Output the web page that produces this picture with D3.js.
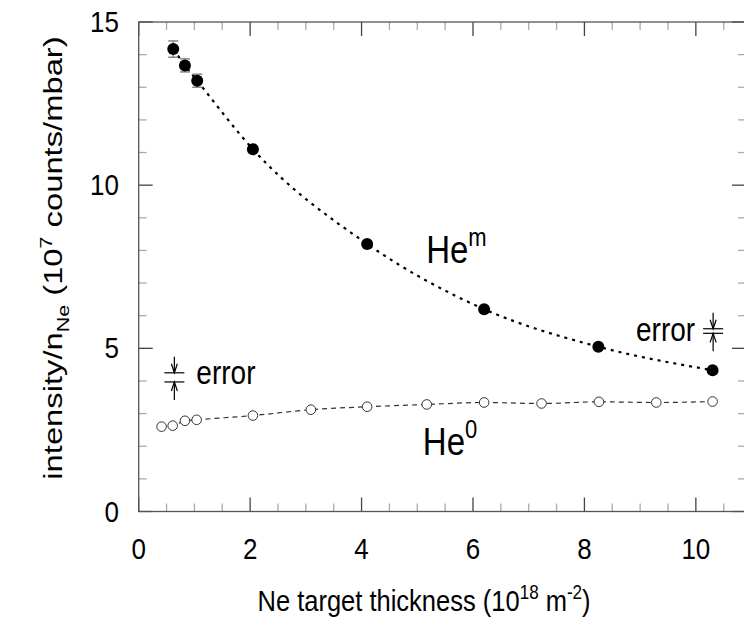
<!DOCTYPE html>
<html>
<head>
<meta charset="utf-8">
<script src="https://cdn.jsdelivr.net/npm/d3@7"></script>
<style>
  body { margin: 0; background: #fff; }
  text { font-family: "Liberation Sans", Arial, Helvetica, sans-serif; fill: #000; }
</style>
</head>
<body>
<script>
// metastable (filled) points
var heMx   = [0.62, 0.83, 1.05, 2.05, 4.1, 6.2, 8.25, 10.3];
var heMy   = [14.17, 13.67, 13.2, 11.1, 8.2, 6.2, 5.05, 4.33];
var heMerr = [0.25, 0.2, 0.2, 0, 0, 0, 0, 0];
// ground state (open) points
var he0x = [0.41, 0.61, 0.83, 1.04, 2.05, 3.09, 4.1, 5.17, 6.2, 7.23, 8.26, 9.29, 10.3];
var he0y = [2.6, 2.63, 2.78, 2.81, 2.94, 3.12, 3.21, 3.28, 3.34, 3.31, 3.36, 3.34, 3.37];
// error indicators: x, centre y, half gap
var errX = [0.64, 10.31];
var errY = [4.11, 5.53];
var errGap = [0.14, 0.07];

var xTicks = [0, 2, 4, 6, 8, 10];
var yTicks = [0, 5, 10, 15];

var width = 744, height = 624;
var margin = {left: 138.7, right: -2, top: 22, bottom: 112.5};
var stretch = 1.17; // the original figure text looks vertically stretched

var x = d3.scaleLinear().domain([0, 10.9]).range([margin.left, width - margin.right]);
var y = d3.scaleLinear().domain([0, 15]).range([height - margin.bottom, margin.top]);

var svg = d3.select("body").append("svg")
    .attr("width", width).attr("height", height);

// horizontal text, stretched a bit vertically
function label(px, py, size, anchor){
  return svg.append("g")
      .attr("transform", "translate(" + px + "," + py + ") scale(1," + stretch + ")")
    .append("text").attr("font-size", size).attr("text-anchor", anchor || "start");
}

// ticks on all four sides (minor light, major dark)
var xMinor = d3.range(0, 10.91, 0.5);
var yMinor = d3.range(0, 15.01, 1);
var tk = svg.append("g");
xMinor.forEach(function(v){
  var major = Math.abs(v % 2) < 1e-6;
  var len = major ? 14 : 8;
  var col = major ? "#444" : "#aaa";
  tk.append("line").attr("x1", x(v)).attr("x2", x(v)).attr("y1", y(0)).attr("y2", y(0) - len)
    .attr("stroke", col).attr("stroke-width", 1.3);
  tk.append("line").attr("x1", x(v)).attr("x2", x(v)).attr("y1", y(15)).attr("y2", y(15) + len)
    .attr("stroke", col).attr("stroke-width", 1.3);
});
yMinor.forEach(function(v){
  var major = v % 5 === 0;
  var len = major ? 14 : 8;
  var col = major ? "#444" : "#aaa";
  tk.append("line").attr("x1", x(0)).attr("x2", x(0) + len).attr("y1", y(v)).attr("y2", y(v))
    .attr("stroke", col).attr("stroke-width", 1.3);
  tk.append("line").attr("x1", x(10.9)).attr("x2", x(10.9) - len).attr("y1", y(v)).attr("y2", y(v))
    .attr("stroke", col).attr("stroke-width", 1.3);
});

// frame
svg.append("rect")
    .attr("x", x(0)).attr("y", y(15))
    .attr("width", x(10.9) - x(0)).attr("height", y(0) - y(15))
    .attr("fill", "none").attr("stroke", "#555").attr("stroke-width", 1.3);

// tick labels
xTicks.forEach(function(d){
  label(x(d), y(0) + 47, 26, "middle").text(d);
});
yTicks.forEach(function(d){
  label(119, y(d) + 10, 26, "end").text(d);
});

// axis titles
var xt = label(424, 611, 25.5, "middle");
xt.append("tspan").text("Ne target thickness (10");
xt.append("tspan").attr("dy", -10).attr("font-size", 17).text("18");
xt.append("tspan").attr("dy", 10).text(" m");
xt.append("tspan").attr("dy", -10).attr("font-size", 17).text("-2");
xt.append("tspan").attr("dy", 10).text(")");

var yt = svg.append("g")
    .attr("transform", "translate(62,258) rotate(-90) scale(1.26,1)")
  .append("text").attr("text-anchor", "middle").attr("font-size", 26);
yt.append("tspan").text("intensity/n");
yt.append("tspan").attr("dy", 7).attr("font-size", 17).text("Ne");
yt.append("tspan").attr("dy", -7).text(" (10");
yt.append("tspan").attr("dy", -10).attr("font-size", 17).text("7");
yt.append("tspan").attr("dy", 10).text(" counts/mbar)");

// fit lines
var heM = heMx.map(function(d, i){ return {x: d, y: heMy[i], e: heMerr[i]}; });
var he0 = he0x.map(function(d, i){ return {x: d, y: he0y[i]}; });
var line = d3.line().x(function(d){ return x(d.x); }).y(function(d){ return y(d.y); })
    .curve(d3.curveMonotoneX);

svg.append("path").attr("d", line(he0)).attr("fill", "none")
    .attr("stroke", "#333").attr("stroke-width", 1.2).attr("stroke-dasharray", "5,4");
svg.append("path").attr("d", line(heM)).attr("fill", "none")
    .attr("stroke", "#000").attr("stroke-width", 2.2).attr("stroke-dasharray", "3,5");

// error bars
var eb = svg.append("g").attr("stroke", "#888").attr("stroke-width", 1.5);
heM.filter(function(d){ return d.e > 0; }).forEach(function(d){
  eb.append("line").attr("x1", x(d.x)).attr("x2", x(d.x)).attr("y1", y(d.y - d.e)).attr("y2", y(d.y + d.e));
  eb.append("line").attr("x1", x(d.x) - 5).attr("x2", x(d.x) + 5).attr("y1", y(d.y - d.e)).attr("y2", y(d.y - d.e));
  eb.append("line").attr("x1", x(d.x) - 5).attr("x2", x(d.x) + 5).attr("y1", y(d.y + d.e)).attr("y2", y(d.y + d.e));
});

// points
svg.selectAll(".o").data(he0).enter().append("circle")
    .attr("cx", function(d){ return x(d.x); }).attr("cy", function(d){ return y(d.y); })
    .attr("r", 4.8).attr("fill", "#fff").attr("stroke", "#333").attr("stroke-width", 1);
svg.selectAll(".f").data(heM).enter().append("circle")
    .attr("cx", function(d){ return x(d.x); }).attr("cy", function(d){ return y(d.y); })
    .attr("r", 6).attr("fill", "#000");

// error indicators
errX.forEach(function(ex, i){
  var cx = x(ex), top = y(errY[i] + errGap[i]), bot = y(errY[i] - errGap[i]);
  var g = svg.append("g").attr("stroke", "#000").attr("stroke-width", 1.2).attr("fill", "none");
  g.append("line").attr("x1", cx - 10).attr("x2", cx + 10).attr("y1", top).attr("y2", top);
  g.append("line").attr("x1", cx - 10).attr("x2", cx + 10).attr("y1", bot).attr("y2", bot);
  g.append("line").attr("x1", cx).attr("x2", cx).attr("y1", top - 16).attr("y2", top);
  g.append("line").attr("x1", cx).attr("x2", cx).attr("y1", bot + 18).attr("y2", bot);
  g.append("path").attr("d", "M" + (cx - 3) + "," + (top - 9) + "L" + cx + "," + top + "L" + (cx + 3) + "," + (top - 9));
  g.append("path").attr("d", "M" + (cx - 3) + "," + (bot + 9) + "L" + cx + "," + bot + "L" + (cx + 3) + "," + (bot + 9));
});
label(x(errX[0]) + 22, y(errY[0]) + 7, 28).text("error");
label(x(errX[1]) - 18, y(errY[1]) + 10, 28, "end").text("error");

// series labels
var lm = label(x(5.16), y(7.61), 33);
lm.append("tspan").text("He");
lm.append("tspan").attr("dy", -15).attr("font-size", 22).text("m");
var l0 = label(x(5.1), y(1.73), 33);
l0.append("tspan").text("He");
l0.append("tspan").attr("dy", -15).attr("font-size", 22).text("0");
</script>
</body>
</html>
